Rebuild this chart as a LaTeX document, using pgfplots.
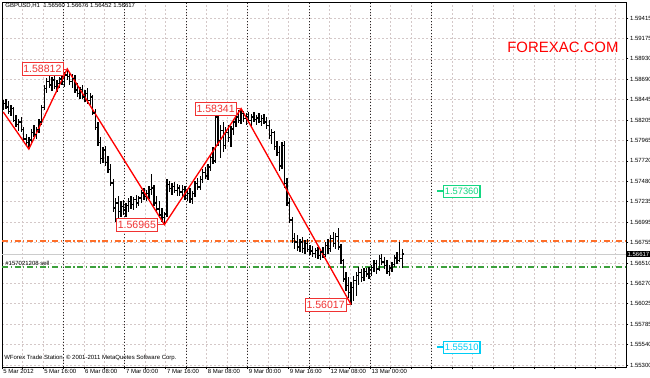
\documentclass[border=0pt]{standalone}
\usepackage{pgfplots}
\usepackage{pgfplotstable}
\pgfplotsset{compat=1.18}
\usepackage{fontspec}
\setmainfont{Liberation Sans}
\definecolor{gridc}{RGB}{212,200,200}
\definecolor{orangeln}{RGB}{255,110,40}
\definecolor{greenln}{RGB}{60,160,60}
\definecolor{zzred}{RGB}{240,50,50}
\definecolor{mintc}{RGB}{20,215,130}
\definecolor{cyanl}{RGB}{0,205,245}
\pgfdeclareplotmark{ohlcopen}{\pgfpathmoveto{\pgfqpoint{-1pt}{0pt}}\pgfpathlineto{\pgfqpoint{0pt}{0pt}}\pgfusepathqstroke}
\pgfdeclareplotmark{ohlcclose}{\pgfpathmoveto{\pgfqpoint{0pt}{0pt}}\pgfpathlineto{\pgfqpoint{1pt}{0pt}}\pgfusepathqstroke}
\newcommand{\sm}{\fontsize{4.5}{5}\selectfont}
\pgfplotstableread{
i o h l c
0 1.5836 1.5844 1.5832 1.5840
1 1.5840 1.5846 1.5834 1.5836
2 1.5836 1.5843 1.5828 1.5831
3 1.5831 1.5838 1.5825 1.5834
4 1.5834 1.5836 1.5818 1.5820
5 1.5820 1.5826 1.5812 1.5815
6 1.5815 1.5822 1.5808 1.5818
7 1.5818 1.5824 1.5806 1.5809
8 1.5809 1.5812 1.5795 1.5798
9 1.5798 1.5804 1.5790 1.5794
10 1.5794 1.5800 1.5786 1.5797
11 1.5797 1.5810 1.5793 1.5806
12 1.5806 1.5815 1.5800 1.5803
13 1.5803 1.5812 1.5798 1.5809
14 1.5809 1.5822 1.5805 1.5818
15 1.5818 1.5838 1.5815 1.5835
16 1.5835 1.5862 1.5832 1.5858
17 1.5858 1.5870 1.5852 1.5866
18 1.5866 1.5874 1.5858 1.5862
19 1.5862 1.5871 1.5855 1.5868
20 1.5868 1.5873 1.5857 1.5860
21 1.5860 1.5868 1.5854 1.5864
22 1.5864 1.5872 1.5858 1.5869
23 1.5869 1.5876 1.5862 1.5866
24 1.5866 1.5877 1.5860 1.5874
25 1.5874 1.58812 1.5868 1.5872
26 1.5872 1.5878 1.5862 1.5866
27 1.5866 1.5875 1.5858 1.5870
28 1.5870 1.5874 1.5852 1.5856
29 1.5856 1.5864 1.5848 1.5852
30 1.5852 1.5860 1.5846 1.5857
31 1.5857 1.5862 1.5845 1.5848
32 1.5848 1.5856 1.5842 1.5852
33 1.5852 1.5858 1.5840 1.5844
34 1.5844 1.5852 1.5838 1.5848
35 1.5848 1.5850 1.5826 1.5829
36 1.5829 1.5834 1.5809 1.5812
37 1.5812 1.5818 1.5790 1.5794
38 1.5794 1.5800 1.5768 1.5775
39 1.5775 1.5789 1.5770 1.5785
40 1.5785 1.5790 1.5766 1.5770
41 1.5770 1.5778 1.5758 1.5762
42 1.5762 1.5768 1.5742 1.5746
43 1.5746 1.5750 1.5712 1.5716
44 1.5716 1.5728 1.5700 1.5722
45 1.5722 1.5730 1.5698 1.5712
46 1.5712 1.5724 1.5706 1.5718
47 1.5718 1.5726 1.5708 1.5714
48 1.5714 1.5722 1.5706 1.5719
49 1.5719 1.5728 1.5712 1.5724
50 1.5724 1.5730 1.5715 1.5720
51 1.5720 1.5729 1.5714 1.5726
52 1.5726 1.5732 1.5716 1.5722
53 1.5722 1.5731 1.5718 1.5728
54 1.5728 1.5738 1.5722 1.5734
55 1.5734 1.5740 1.5726 1.5730
56 1.5730 1.5737 1.5724 1.5733
57 1.5733 1.5742 1.5727 1.5738
58 1.5738 1.5756 1.5732 1.5740
59 1.5740 1.5744 1.5718 1.5722
60 1.5722 1.5730 1.5710 1.5715
61 1.5715 1.5724 1.5704 1.5708
62 1.5708 1.5716 1.5700 1.5705
63 1.5705 1.5712 1.56965 1.5709
64 1.5709 1.5750 1.5705 1.5744
65 1.5744 1.5748 1.5735 1.5739
66 1.5739 1.5746 1.5732 1.5742
67 1.5742 1.5747 1.5734 1.5737
68 1.5737 1.5745 1.5731 1.5740
69 1.5740 1.5744 1.5730 1.5735
70 1.5735 1.5743 1.5729 1.5738
71 1.5738 1.5742 1.5726 1.5731
72 1.5731 1.5738 1.5724 1.5733
73 1.5733 1.5740 1.5722 1.5727
74 1.5727 1.5736 1.5721 1.5733
75 1.5733 1.5748 1.5729 1.5745
76 1.5745 1.5752 1.5737 1.5741
77 1.5741 1.5754 1.5738 1.5750
78 1.5750 1.5763 1.5746 1.5758
79 1.5758 1.5765 1.5750 1.5754
80 1.5754 1.5768 1.5749 1.5765
81 1.5765 1.5780 1.5760 1.5776
82 1.5776 1.5788 1.5768 1.5772
83 1.5772 1.5830 1.5770 1.5824
84 1.5824 1.5826 1.5790 1.5796
85 1.5796 1.5815 1.5775 1.5808
86 1.5808 1.5818 1.5782 1.5790
87 1.5790 1.5812 1.5786 1.5806
88 1.5806 1.5815 1.5794 1.5800
89 1.5800 1.5814 1.5788 1.5810
90 1.5810 1.5822 1.5803 1.5818
91 1.5818 1.5828 1.5812 1.5824
92 1.5824 1.5832 1.5817 1.5820
93 1.5820 1.58341 1.5816 1.5828
94 1.5828 1.5831 1.5818 1.5822
95 1.5822 1.5829 1.5815 1.5825
96 1.5825 1.5830 1.5817 1.5820
97 1.5820 1.5828 1.5814 1.5824
98 1.5824 1.5830 1.5818 1.5821
99 1.5821 1.5827 1.5815 1.5823
100 1.5823 1.5829 1.5817 1.5819
101 1.5819 1.5826 1.5813 1.5822
102 1.5822 1.5828 1.5816 1.5818
103 1.5818 1.5824 1.5810 1.5814
104 1.5814 1.5820 1.5798 1.5802
105 1.5802 1.5810 1.5792 1.5806
106 1.5806 1.5808 1.5785 1.5789
107 1.5789 1.5796 1.5778 1.5782
108 1.5782 1.5790 1.5760 1.5766
109 1.5766 1.5794 1.5762 1.5790
110 1.5790 1.5796 1.5740 1.5745
111 1.5745 1.5752 1.5718 1.5722
112 1.5722 1.5728 1.5698 1.5702
113 1.5702 1.5706 1.5675 1.5680
114 1.5680 1.5686 1.5668 1.5676
115 1.5676 1.5684 1.5665 1.5670
116 1.5670 1.5680 1.5664 1.5676
117 1.5676 1.5682 1.5663 1.5668
118 1.5668 1.5678 1.5662 1.5674
119 1.5674 1.5680 1.5664 1.5667
120 1.5667 1.5672 1.5660 1.5665
121 1.5665 1.5671 1.5658 1.5662
122 1.5662 1.5669 1.5657 1.5666
123 1.5666 1.5670 1.5656 1.5660
124 1.5660 1.5668 1.5655 1.5664
125 1.5664 1.5670 1.5657 1.5661
126 1.5661 1.5676 1.5658 1.5672
127 1.5672 1.5680 1.5662 1.5668
128 1.5668 1.5684 1.5664 1.5680
129 1.5680 1.5688 1.5670 1.5674
130 1.5674 1.5686 1.5668 1.5682
131 1.5682 1.5692 1.5666 1.5670
132 1.5670 1.5674 1.5650 1.5654
133 1.5654 1.5656 1.5628 1.5632
134 1.5632 1.5640 1.5618 1.5624
135 1.5624 1.5634 1.5610 1.5616
136 1.5616 1.5628 1.56017 1.5622
137 1.5622 1.5636 1.5606 1.5630
138 1.5630 1.5640 1.5612 1.5636
139 1.5636 1.5646 1.5625 1.5640
140 1.5640 1.5644 1.5628 1.5634
141 1.5634 1.5645 1.5630 1.5641
142 1.5641 1.5645 1.5634 1.5638
143 1.5638 1.5646 1.5632 1.5643
144 1.5643 1.5649 1.5636 1.5646
145 1.5646 1.5654 1.5640 1.5650
146 1.5650 1.5655 1.5638 1.5644
147 1.5644 1.5660 1.5642 1.5656
148 1.5656 1.5662 1.5648 1.5652
149 1.5652 1.5658 1.5644 1.5648
150 1.5648 1.5654 1.5638 1.5641
151 1.5641 1.5648 1.5636 1.5645
152 1.5645 1.5652 1.5640 1.5649
153 1.5649 1.5660 1.5646 1.5657
154 1.5657 1.5664 1.5650 1.5654
155 1.5654 1.5676 1.5652 1.5656
156 1.56560 1.56676 1.56452 1.56617
}\bars
\begin{document}
\begin{tikzpicture}
\useasboundingbox (0,0) rectangle (487.5pt,283.5pt);
\fill[white] (0,0) rectangle (487.5pt,283.5pt);
\begin{axis}[
  at={(1.5pt,8.25pt)}, anchor=south west,
  scale only axis, width=468pt, height=273.75pt,
  xmin=-0.5, xmax=243.5, ymin=1.552763, ymax=1.596048,
  clip=false,
  axis line style={black, line width=0.6pt},
  font=\sm,
  xtick={-0.5,7.5,...,239.5},
  xticklabels={5 Mar 2012,,5 Mar 16:00,,6 Mar 08:00,,7 Mar 00:00,,7 Mar 16:00,,8 Mar 08:00,,9 Mar 00:00,,9 Mar 16:00,,12 Mar 08:00,,13 Mar 00:00},
  xticklabel style={anchor=north west, inner sep=0.3pt, xshift=0.5pt, yshift=0.6pt},
  xtick pos=bottom, xtick align=outside, xmajorgrids,
  ytick={1.55300,1.5554206,1.5578412,1.5602618,1.5626824,1.565103,1.5675236,1.5699442,1.5723648,1.5747854,1.577206,1.5796266,1.5820472,1.5844678,1.5868884,1.589309,1.5917296,1.5941502},
  yticklabels={1.55300,1.55540,1.55785,1.56025,1.56270,1.56510,1.56755,1.56995,1.57235,1.57480,1.57720,1.57965,1.58205,1.58445,1.58690,1.58930,1.59175,1.59415},
  yticklabel pos=right, ytick pos=right, ytick align=outside, ymajorgrids,
  yticklabel style={anchor=west, inner sep=0.6pt, xshift=0.4pt},
  major tick length=1.8pt,
  tick style={black, line width=0.5pt},
  major grid style={gridc, line width=0.45pt, dash pattern=on 1.5pt off 1.5pt},
  extra x ticks={23.5,47.5,...,167.5},
  extra x tick labels={},
  extra x tick style={grid=major, major tick length=0pt, major grid style={black!85, line width=0.55pt, dash pattern=on 0.75pt off 1.5pt}},
  /pgf/number format/assume math mode=true,
]
% bid line and order lines
\addplot[draw=black!20, line width=0.6pt] coordinates {(-0.5,1.56617) (243.5,1.56617)};
\addplot[draw=orangeln, line width=0.9pt, dash pattern=on 4.5pt off 2pt on 0.9pt off 2pt] coordinates {(-0.5,1.5677) (243.5,1.5677)};
\addplot[draw=greenln, line width=0.9pt, dash pattern=on 4.5pt off 2pt on 0.9pt off 2pt] coordinates {(-0.5,1.56462) (243.5,1.56462)};
% OHLC bars
\addplot[black, line width=1pt, only marks, mark=ohlcopen,
  error bars/.cd, y dir=both, y explicit, error mark=none,
  error bar style={black, line width=1pt}]
  table[x=i, y=o, y error plus expr=\thisrow{h}-\thisrow{o}, y error minus expr=\thisrow{o}-\thisrow{l}] {\bars};
\addplot[black, line width=1pt, only marks, mark=ohlcclose] table[x=i, y=c] {\bars};
% zigzag
\addplot[draw=red, line width=1pt] coordinates {(0,1.5830) (10,1.57861) (25,1.58812) (63,1.56965) (93,1.58341) (136,1.56017)};
% zigzag labels
\draw[zzred, line width=0.5pt] (axis cs:25,1.58812) -- ++(-3pt,0pt) node[anchor=east, draw=zzred, fill=white, text=zzred, font=\fontsize{7.9}{8}\selectfont, inner sep=1.1pt, minimum height=10pt] {1.58812};
\draw[zzred, line width=0.5pt] (axis cs:63,1.56965) -- ++(-5pt,0pt) node[anchor=east, draw=zzred, fill=white, text=zzred, font=\fontsize{7.9}{8}\selectfont, inner sep=1.1pt, minimum height=10pt] {1.56965};
\draw[zzred, line width=0.5pt] (axis cs:93,1.58341) -- ++(-3.5pt,0pt) node[anchor=east, draw=zzred, fill=white, text=zzred, font=\fontsize{7.9}{8}\selectfont, inner sep=1.1pt, minimum height=10pt] {1.58341};
\draw[zzred, line width=0.5pt] (axis cs:136,1.56017) -- ++(-3.5pt,0pt) node[anchor=east, draw=zzred, fill=white, text=zzred, font=\fontsize{7.9}{8}\selectfont, inner sep=1.1pt, minimum height=10pt] {1.56017};
% price labels
\draw[mintc, line width=1.2pt] (axis cs:169.6,1.57360) -- (axis cs:171.9,1.57360);
\node[anchor=west, draw=mintc, line width=1pt, fill=white, text=mintc, font=\fontsize{7}{7}\selectfont, inner sep=1pt, minimum height=9pt] at (axis cs:171.9,1.57360) {1.57360};
\draw[cyanl, line width=1.2pt] (axis cs:169.6,1.55510) -- (axis cs:171.9,1.55510);
\node[anchor=west, draw=cyanl, line width=1pt, fill=white, text=cyanl, font=\fontsize{7}{7}\selectfont, inner sep=1pt, minimum height=9pt] at (axis cs:171.9,1.55510) {1.55510};
% texts
\node[anchor=west, red, font=\fontsize{11.2}{12}\selectfont, inner sep=0pt] at (axis cs:197,1.5907) {FOREXAC.COM};
\node[anchor=west, black, font=\sm, inner sep=0pt] at (axis cs:0.7,1.59557) {GBPUSD,H1\ \ 1.56560 1.56676 1.56452 1.56617};
\node[anchor=west, black, font=\sm, inner sep=0pt] at (axis cs:0.7,1.5651) {\#157021208 sell};
\node[anchor=west, black, font=\sm, inner sep=0pt] at (axis cs:0.3,1.55383) {WForex Trade Station, © 2001-2011 MetaQuotes Software Corp.};
\node[anchor=west, fill=black, text=white, font=\sm, inner sep=0.8pt, xshift=0.2pt] at (axis cs:243.5,1.56617) {1.56617};
\end{axis}
\end{tikzpicture}
\end{document}
